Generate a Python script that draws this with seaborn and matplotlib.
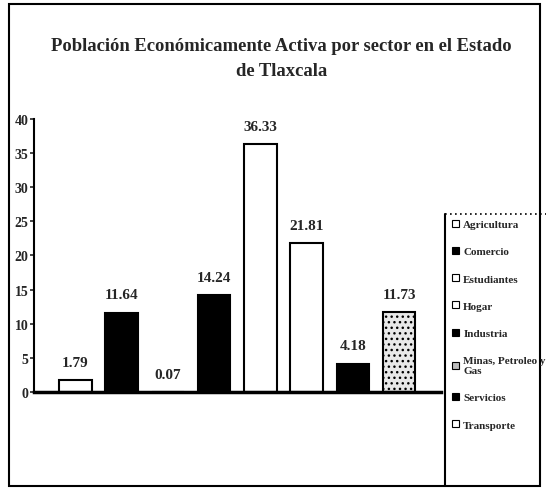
import matplotlib
matplotlib.use("Agg")
import matplotlib.pyplot as plt
import seaborn as sns
import pandas as pd
from matplotlib.patches import Patch, Rectangle
from matplotlib.lines import Line2D

# data
categorias = ["Agricultura", "Comercio", "Estudiantes", "Hogar", "Industria",
              "Minas, Petroleo y\nGas", "Servicios", "Transporte"]
valores = [1.79, 11.64, 0.07, 14.24, 36.33, 21.81, 4.18, 11.73]
etiquetas = ["1.79", "11.64", "0.07", "14.24", "36.33", "21.81", "4.18", "11.73"]
yticks = [0, 5, 10, 15, 20, 25, 30, 35, 40]

# colours of the bars as they look in the picture, and of the legend keys
bar_colors = ["white", "black", "black", "black", "white", "white", "black", "#e8e8e8"]
legend_colors = ["white", "black", "white", "white", "black", "#bdbdbd", "black", "white"]

df = pd.DataFrame({"Sector": categorias, "Valor": valores})

sns.set_style("white")
plt.rcParams["font.family"] = ["Liberation Serif", "DejaVu Serif"]
plt.rcParams["font.weight"] = "bold"

fig = plt.figure(figsize=(5.46, 4.89), dpi=100)
ax = fig.add_axes([0.062, 0.196, 0.745, 0.559])

sns.barplot(data=df, x="Sector", y="Valor", color="white",
            edgecolor="black", linewidth=1.5, width=0.7, ax=ax)

for bar, c in zip(ax.patches, bar_colors):
    bar.set_facecolor(c)
# the transport bar is speckled in the scan
ax.patches[7].set_hatch("...")

ax.bar_label(ax.containers[0], labels=etiquetas, padding=8, fontsize=11, fontweight="bold")

ax.set_ylim(0, 40)
ax.set_xlim(-0.9, 7.9)
ax.set_yticks(yticks)
ax.set_yticklabels([str(t) for t in yticks], fontsize=10, fontweight="bold")
ax.tick_params(axis="y", direction="out", length=3, width=1.2, pad=1, left=True)
ax.set_xticks([])
ax.set_xlabel("")
ax.set_ylabel("")
for s in ["top", "right"]:
    ax.spines[s].set_visible(False)
ax.spines["left"].set_linewidth(1.5)
ax.spines["bottom"].set_linewidth(2.5)
ax.spines["left"].set_color("black")
ax.spines["bottom"].set_color("black")

fig.text(0.515, 0.879, "Población Económicamente Activa por sector en el Estado\nde Tlaxcala",
         ha="center", va="center", fontsize=13.4, fontweight="bold", linespacing=1.6)

handles = [Patch(facecolor=c, edgecolor="black", linewidth=0.8) for c in legend_colors]
leg = fig.legend(handles, categorias, loc="upper left", bbox_to_anchor=(0.818, 0.56),
                 frameon=False, fontsize=8,
                 handlelength=0.6, handleheight=0.6, handletextpad=0.4,
                 labelspacing=1.6, borderpad=0.5, borderaxespad=0)
for t in leg.get_texts():
    t.set_fontweight("bold")

# legend box: solid left side, dotted top
fig.lines.append(Line2D([0.815, 0.815], [0.005, 0.56], transform=fig.transFigure,
                        color="black", linewidth=1.5))
fig.lines.append(Line2D([0.815, 1.0], [0.56, 0.56], transform=fig.transFigure,
                        color="black", linewidth=1.2, linestyle=(0, (1, 2))))

# outer frame of the chart
fig.patches.append(Rectangle((0.016, 0.004), 0.973, 0.986, transform=fig.transFigure,
                             fill=False, edgecolor="black", linewidth=1.5))

fig.savefig("out.png", dpi=100, facecolor="white")
